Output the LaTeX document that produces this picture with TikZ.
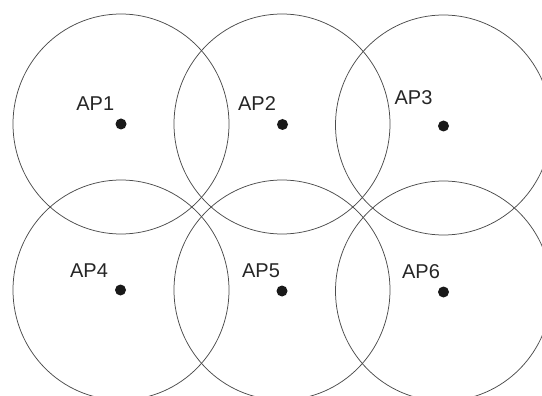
\documentclass[tikz,border=0pt]{standalone}
\usepackage{fontspec}
\setmainfont{Liberation Sans}
\usetikzlibrary{shapes.geometric}
\begin{document}
\begin{tikzpicture}[x=1pt,y=-1pt,
  cell/.style={draw=black!70, line width=0.75pt, ellipse, minimum width=216pt, minimum height=220pt, inner sep=0pt},
  apdot/.style={circle, fill=black!90, minimum size=11pt, inner sep=0pt},
  aplabel/.style={inner sep=0pt, text=black!85, font=\fontsize{20}{24}\selectfont}]
\useasboundingbox (0,0) rectangle (542,396);
\fill[white] (0,0) rectangle (542,396);
\clip (0,0) rectangle (542,396);
% coverage cells
\node[cell] (c1) at (121,124) {};
\node[cell] (c2) at (282,124) {};
\node[cell] (c3) at (443.5,125) {};
\node[cell] (c4) at (121,290) {};
\node[cell] (c5) at (282,290) {};
\node[cell] (c6) at (443.5,291) {};
% access points
\node[apdot] (d1) at (121,124) {};
\node[apdot] (d2) at (282.5,124.5) {};
\node[apdot] (d3) at (443.5,126) {};
\node[apdot] (d4) at (120.5,290) {};
\node[apdot] (d5) at (282,291) {};
\node[apdot] (d6) at (443.5,292) {};
% labels
\node[aplabel] (l1) at (95.3,103.5) {AP1};
\node[aplabel] (l2) at (257,103.5) {AP2};
\node[aplabel] (l3) at (413.5,97.5) {AP3};
\node[aplabel] (l4) at (89,270.5) {AP4};
\node[aplabel] (l5) at (261,270.5) {AP5};
\node[aplabel] (l6) at (421,271.5) {AP6};
\end{tikzpicture}
\end{document}
